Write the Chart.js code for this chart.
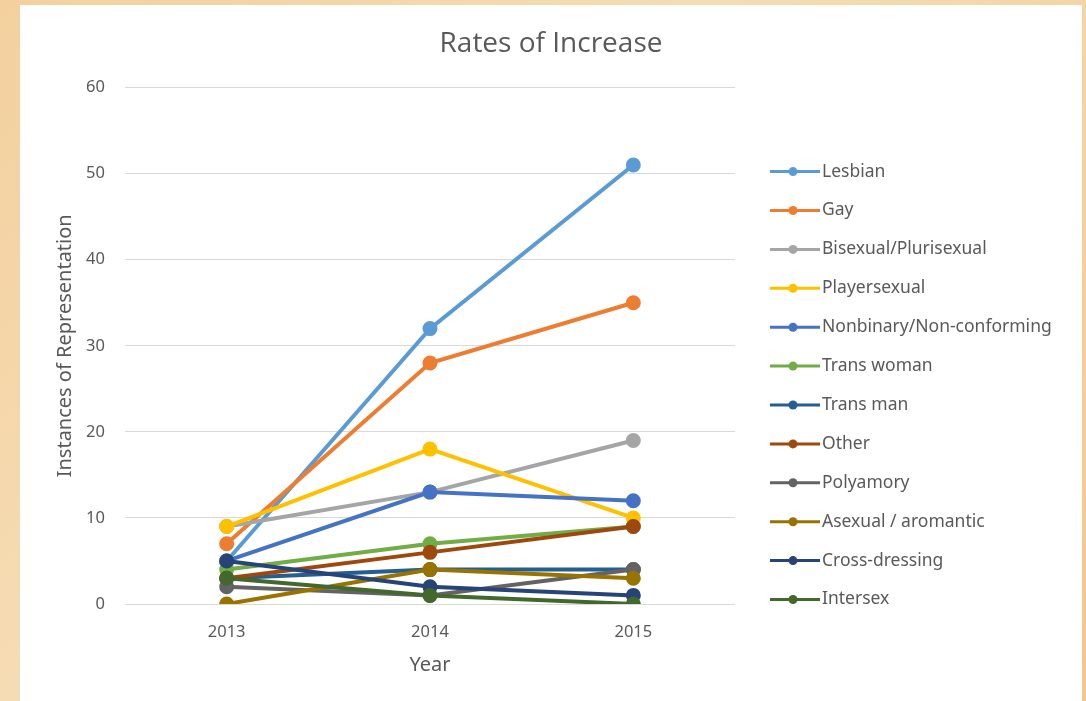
<!DOCTYPE html>
<html>
<head>
<meta charset="utf-8">
<script src="https://cdn.jsdelivr.net/npm/chart.js@4.4.1/dist/chart.umd.min.js"></script>
<style>
  body { margin: 0; background: linear-gradient(135deg, #f3d09e, #f6dcb4 40%, #efc88f); width: 1086px; height: 701px; overflow: hidden; }
  #card { position: absolute; left: 20px; top: 5px; width: 1062px; height: 696px; background: #fff; }
</style>
</head>
<body>
<div id="card"><canvas id="chart" width="1062" height="696"></canvas></div>
<script>
const years = ['2013', '2014', '2015'];
const seriesNames = ['Lesbian', 'Gay', 'Bisexual/Plurisexual', 'Playersexual', 'Nonbinary/Non-conforming',
    'Trans woman', 'Trans man', 'Other', 'Polyamory', 'Asexual / aromantic', 'Cross-dressing', 'Intersex'];
const lesbian = [5, 32, 51];
const gay = [7, 28, 35];
const bisexual = [9, 13, 19];
const playersexual = [9, 18, 10];
const nonbinary = [5, 13, 12];
const transWoman = [4, 7, 9];
const transMan = [3, 4, 4];
const other = [3, 6, 9];
const polyamory = [2, 1, 4];
const asexual = [0, 4, 3];
const crossDressing = [5, 2, 1];
const intersex = [3, 1, 0];
const seriesValues = [lesbian, gay, bisexual, playersexual, nonbinary, transWoman, transMan, other, polyamory, asexual, crossDressing, intersex];
const colors = ['#5B9BD5', '#ED7D31', '#A5A5A5', '#FFC000', '#4472C4', '#70AD47',
    '#255E91', '#9E480E', '#636363', '#997300', '#264478', '#43682B'];

const textColor = '#595959';
const font = "'Noto Sans', sans-serif";

// Excel style legend: line with a dot, drawn in the space kept free by the dummy right axis
const sideLegend = {
    id: 'sideLegend',
    afterDraw(chart) {
        const g = chart.ctx;
        const area = chart.chartArea;
        const x0 = area.right + 35;
        const y0 = area.top + 84;
        g.save();
        g.font = '17.5px ' + font;
        g.textBaseline = 'middle';
        chart.data.datasets.forEach((ds, i) => {
            const y = y0 + i * 38.9;
            g.strokeStyle = ds.borderColor;
            g.fillStyle = ds.borderColor;
            g.lineWidth = 3;
            g.beginPath(); g.moveTo(x0, y); g.lineTo(x0 + 50, y); g.stroke();
            g.beginPath(); g.arc(x0 + 23, y, 4.5, 0, Math.PI * 2); g.fill();
            g.fillStyle = textColor;
            g.fillText(ds.label, x0 + 52, y);
        });
        g.restore();
    }
};

const ctx = document.getElementById('chart').getContext('2d');
const chart = new Chart(ctx, {
    type: 'line',
    data: {
        labels: years,
        datasets: seriesNames.map((name, i) => ({
            label: name,
            data: seriesValues[i],
            borderColor: colors[i],
            backgroundColor: colors[i],
            borderWidth: 4,
            pointRadius: 5.5,
            pointHoverRadius: 5.5,
            tension: 0,
            order: seriesNames.length - i   // later series on top, as in Excel
        }))
    },
    options: {
        responsive: false,
        animation: false,
        layout: { padding: { left: 0, right: 0, top: 10, bottom: 0 } },
        plugins: {
            title: {
                display: true,
                text: 'Rates of Increase',
                color: textColor,
                font: { family: "'Open Sans', sans-serif", size: 28, weight: 'normal' },
                padding: { top: 12, bottom: 27 }
            },
            legend: { display: false },
            tooltip: { enabled: false }
        },
        scales: {
            x: {
                offset: true,
                grid: { display: false, drawTicks: false },
                border: { display: false },
                ticks: { color: textColor, padding: 18, font: { family: font, size: 16.5 } },
                title: {
                    display: true, text: 'Year', color: textColor,
                    font: { family: font, size: 20 },
                    padding: { top: 0, bottom: 24 }
                },
                afterFit: (scale) => { scale.height = 97; }
            },
            y: {
                min: 0, max: 60,
                ticks: { stepSize: 10, color: textColor, padding: 20, font: { family: font, size: 16.5 } },
                grid: { color: '#d9d9d9', drawTicks: false },
                border: { display: false },
                title: {
                    display: true, text: 'Instances of Representation', color: textColor,
                    font: { family: font, size: 20 },
                    padding: { top: 33, bottom: 0 }
                },
                afterFit: (scale) => { scale.width = 105; }
            },
            legendSpace: {
                position: 'right',
                display: true,
                ticks: { display: false },
                grid: { display: false },
                border: { display: false },
                afterFit: (scale) => { scale.width = 347; }
            }
        }
    },
    plugins: [sideLegend]
});
</script>
</body>
</html>
